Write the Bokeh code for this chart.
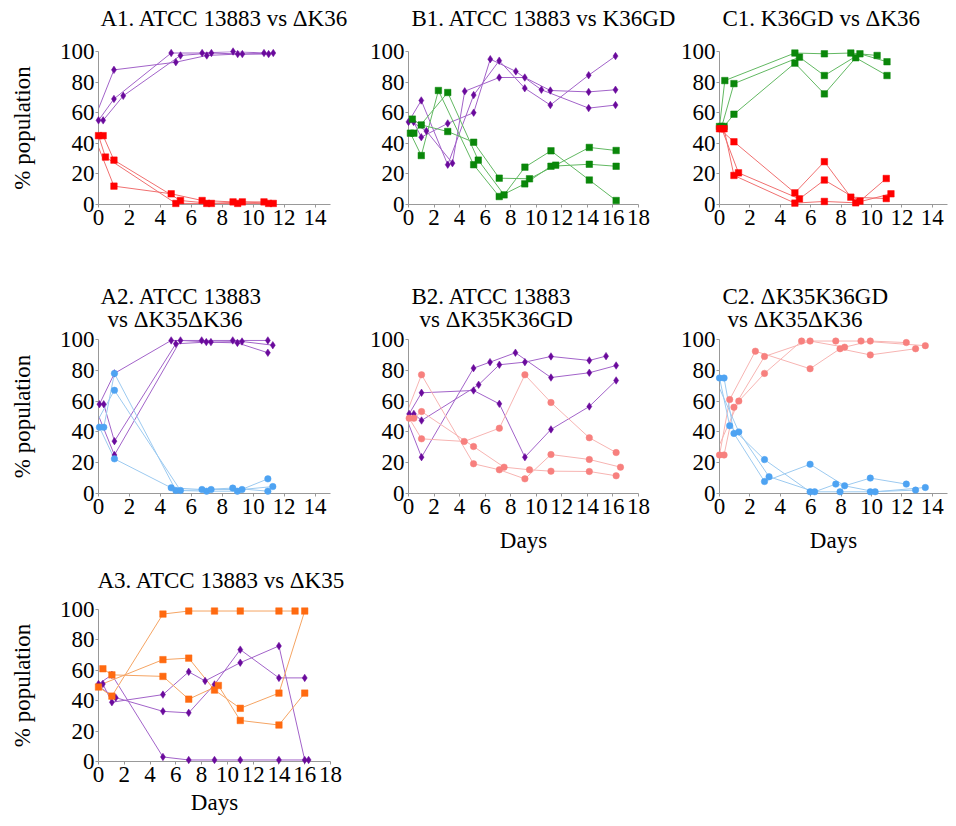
from bokeh.plotting import figure
from bokeh.models import Range1d, FixedTicker, Title
from bokeh.layouts import column, row
from bokeh.embed import file_html
from bokeh.resources import INLINE

# ---------------- data (days, % population), three replicate lines per strain ----------------
A1_ATCC_X = [[-0.3, 1.0, 5.0, 7.0, 9.0, 11.0], [0.0, 1.0, 4.7, 6.7, 8.7, 10.7], [0.3, 1.6, 5.3, 7.3, 9.3, 11.3]]
A1_ATCC_Y = [[55, 88, 93, 97.4, 98.3, 98.3], [55, 69, 99, 99, 100, 99], [55, 71, 97.4, 99, 98.3, 99]]
A1_K36_X = [[-0.3, 1.0, 4.7, 6.7, 8.7, 10.7], [0.0, 0.45, 5.0, 7.0, 9.0, 11.0], [0.3, 1.0, 5.3, 7.3, 9.3, 11.3]]
A1_K36_Y = [[45, 12, 7, 2.6, 1.7, 1.7], [45, 31, 0.7, 0.7, 0.7, 0.7], [45, 29, 2.6, 0.7, 1.7, 0.7]]

B1_ATCC_X = [[0.4, 1.0, 3.07, 5.1, 6.4, 8.4, 10.4, 14.1, 16.2],
             [0.0, 1.0, 3.07, 5.1, 7.1, 9.1, 11.1, 14.1, 16.2],
             [-0.3, 1.4, 3.44, 4.4, 7.1, 9.1, 11.1, 14.1, 16.2]]
B1_ATCC_Y = [[54, 44, 53, 60, 95, 87, 75, 63, 65],
             [54, 68, 26, 71.5, 94, 76, 65, 84.5, 97],
             [57, 48, 27, 74, 83, 83, 74.5, 73.6, 75]]
B1_K36GD_X = [[0.15, 1.0, 2.34, 5.1, 7.1, 9.1, 11.15, 14.15, 16.25],
              [0.3, 1.0, 3.07, 5.1, 7.1, 9.47, 11.52, 14.15, 16.25],
              [0.42, 3.07, 5.46, 7.48, 9.11, 11.15, 14.15, 16.25]]
B1_K36GD_Y = [[46.6, 32, 74.5, 26, 5.2, 13.5, 25, 26.3, 25],
              [55.8, 52, 47.7, 40.7, 17.2, 16.8, 25.7, 37.3, 35.3],
              [46.6, 73.2, 29, 6.3, 24.4, 35.1, 16, 2.6]]

C1_K36GD_X = [[0.0, 0.35, 4.96, 6.9, 8.64, 10.37], [0.15, 0.95, 5.26, 6.9, 9.24, 11.02], [0.3, 0.95, 4.96, 6.9, 8.96, 11.02]]
C1_K36GD_Y = [[51, 81, 99, 98.5, 99, 97.4], [51, 79, 96.3, 84.3, 98.5, 93.3], [51, 59, 92.4, 72.3, 95.9, 84.3]]
C1_K36_X = [[0.0, 0.95, 4.96, 6.9, 8.64, 10.97], [0.15, 1.25, 5.26, 6.9, 9.24, 10.97], [0.3, 0.95, 4.96, 6.9, 8.96, 11.28]]
C1_K36_Y = [[49.5, 41, 7.6, 28, 4.8, 3.9], [49.5, 20.7, 3.7, 16, 2.2, 17], [49.5, 19, 0.9, 2, 1.1, 7]]

A2_ATCC_X = [[0.06, 1.03, 4.7, 6.67, 8.68, 10.95], [0.34, 1.03, 5.0, 6.97, 8.98, 10.95], [-0.3, 1.03, 5.3, 7.27, 9.28, 11.27]]
A2_ATCC_Y = [[58, 78, 99.4, 99.4, 99.4, 99.4], [58, 34, 97.2, 98.3, 97.8, 91.4], [58, 25, 99.4, 98.3, 98.7, 96.3]]
A2_K35K36_X = [[0.06, 1.03, 4.7, 6.69, 8.68, 10.95], [0.34, 1.03, 5.0, 6.99, 8.98, 10.95], [-0.3, 1.03, 5.3, 7.28, 9.28, 11.27]]
A2_K35K36_Y = [[43, 22.5, 3.7, 2.6, 3.5, 1.5], [43, 78, 2, 1.5, 1.5, 9.5], [43, 67, 2, 2.6, 2.6, 4.5]]

B2_ATCC_X = [[0.05, 1.02, 5.09, 7.11, 9.11, 11.15, 14.15, 16.25],
             [0.42, 1.02, 5.49, 7.11, 9.11, 11.15, 14.15, 15.46],
             [-0.3, 1.02, 5.09, 6.38, 8.37, 11.15, 14.15, 16.25]]
B2_ATCC_Y = [[51.7, 65.4, 66.9, 58.2, 23.6, 41.6, 56.5, 73.4],
             [51.7, 47.4, 70.6, 83.6, 85.3, 89, 86.4, 89.2],
             [51.7, 23.6, 81.4, 85.3, 91.4, 75.3, 78.4, 83.1]]
B2_K35K36GD_X = [[0.05, 1.02, 4.36, 7.11, 9.11, 11.15, 14.15, 16.25],
                 [0.42, 1.02, 5.09, 7.48, 9.47, 11.15, 14.15, 16.25],
                 [-0.3, 1.02, 5.09, 7.11, 9.11, 11.15, 14.15, 16.59]]
B2_K35K36GD_Y = [[48.9, 35.5, 33.8, 42.4, 77.1, 59.1, 36.2, 26.6],
                 [48.9, 53.2, 30.5, 17.1, 15.4, 14.5, 14.3, 11.5],
                 [48.9, 77.1, 19.3, 15.4, 9.5, 25.3, 22.1, 17.1]]

C2_K35K36GD_X = [[0.0, 0.67, 2.36, 5.96, 7.93, 9.92, 12.9], [0.3, 0.95, 2.96, 5.96, 8.23, 9.92, 12.29], [-0.3, 1.27, 2.96, 5.4, 7.65, 9.31, 13.54]]
C2_K35K36GD_Y = [[25, 61, 92.4, 81, 94, 90, 94], [25, 56, 89, 99, 95, 99, 98], [25, 60, 78, 99, 99, 99, 96]]
C2_K35K36_X = [[0.0, 0.67, 2.96, 5.96, 7.93, 9.92, 12.9], [0.3, 0.95, 2.96, 5.96, 8.23, 9.92, 12.29], [-0.3, 1.27, 3.26, 6.26, 7.65, 10.24, 13.54]]
C2_K35K36_Y = [[75, 44, 22, 1.1, 1.1, 1.1, 2.2], [75, 39, 7.8, 19, 5, 10, 6.1], [75, 40, 10.9, 1.1, 6.1, 1.1, 3.9]]

A3_ATCC_X = [[0.0, 1.04, 5.0, 7.0, 9.0, 11.0, 14.0, 16.3], [0.34, 1.04, 5.0, 7.0, 8.27, 11.0, 14.0, 16.0], [-0.3, 1.34, 5.0, 7.0, 9.0, 11.0, 14.0, 16.0]]
A3_ATCC_Y = [[51, 57, 3, 1, 1, 1, 1, 1], [51, 39, 44, 59, 53, 65, 76, 1], [51, 42, 33, 32, 50.7, 73.6, 55, 55]]
A3_K35_X = [[0.0, 1.04, 5.0, 7.0, 9.0, 11.0, 14.0, 15.25], [0.34, 1.04, 5.0, 7.0, 9.3, 11.0, 14.0, 16.0], [-0.3, 5.0, 7.0, 9.0, 11.0, 14.0, 16.0]]
A3_K35_Y = [[49, 43, 97, 99, 99, 99, 99, 99], [61, 57, 56, 41, 50, 27, 24, 45], [49, 67, 68, 47, 35, 45, 99]]

Y_TICKS = [0, 20, 40, 60, 80, 100]

# ---------------- styles ----------------
FONT = "Liberation Serif"
AXIS_GREY = "#999999"
STYLE = {
    "atcc":      dict(marker="diamond", size=7.5, fill="#6a0a9c", line="#a263c9"),
    "dK36":      dict(marker="square", size=6.5, fill="#ff0000", line="#f07070"),
    "K36GD":     dict(marker="square", size=6.5, fill="#0a870a", line="#62b862"),
    "dK35dK36":  dict(marker="circle", size=6.5, fill="#4ea3f2", line="#9ccaf0"),
    "dK35K36GD": dict(marker="circle", size=6.5, fill="#f7807e", line="#f7b4b2"),
    "dK35":      dict(marker="square", size=6.5, fill="#ff6a10", line="#f5a463"),
}


def make_panel(series, xmax, frame_w, frame_h, borders, titles, gap, ylabel=None, xlabel=None,
               xlabel_standoff=11):
    left, right, top, bottom = borders
    p = figure(frame_width=frame_w, frame_height=frame_h,
               x_range=Range1d(0, xmax), y_range=Range1d(0, 100),
               output_backend="svg", toolbar_location=None, title=None,
               min_border_left=left, min_border_right=right,
               min_border_top=top, min_border_bottom=bottom)
    p.outline_line_color = None
    p.xgrid.visible = False
    p.ygrid.visible = False

    xa, ya = p.xaxis[0], p.yaxis[0]
    xa.ticker = FixedTicker(ticks=list(range(0, int(xmax) + 1, 2)))
    ya.ticker = FixedTicker(ticks=Y_TICKS)
    for ax in (xa, ya):
        ax.axis_line_color = AXIS_GREY
        ax.major_tick_line_color = AXIS_GREY
        ax.minor_tick_line_color = None
        ax.major_tick_in = 0
        ax.major_tick_out = 3
        ax.major_label_text_font = FONT
        ax.major_label_text_font_size = "23px"
        ax.major_label_text_color = "black"
        ax.axis_label_text_font = FONT
        ax.axis_label_text_font_size = "23px"
        ax.axis_label_text_font_style = "normal"
        ax.axis_label_text_color = "black"
    xa.major_label_standoff = 2
    ya.major_label_standoff = 1
    if ylabel:
        ya.axis_label = ylabel
        ya.axis_label_standoff = 22
    if xlabel:
        xa.axis_label = xlabel
        xa.axis_label_standoff = xlabel_standoff

    # lines are clipped at the axes; markers drawn unclipped on top (hidden if left of the y axis)
    for key, xs, ys in series:
        st = STYLE[key]
        for x, y in zip(xs, ys):
            p.line(x, y, line_color=st["line"], line_width=1)
    for key, xs, ys in series:
        st = STYLE[key]
        for x, y in zip(xs, ys):
            vx = [a for a, b in zip(x, y) if a >= 0]
            vy = [b for a, b in zip(x, y) if a >= 0]
            p.scatter(vx, vy, marker=st["marker"], size=st["size"], level="overlay",
                      fill_color=st["fill"], line_color=st["fill"], line_width=0.5)

    # thin blank spacer between frame and titles, then the title lines (nearest first)
    p.add_layout(Title(text=" ", text_font_size="1px", standoff=gap), "above")
    for text, offset, standoff in reversed(titles):
        p.add_layout(Title(text=text, align="left", offset=offset, standoff=standoff,
                           text_font=FONT, text_font_size="23px", text_font_style="normal",
                           text_color="black"), "above")
    return p


# frame sizes (px) and borders (left, right, top, bottom)
A_W, B_W, C_W, A3_W = 232, 230, 228, 232
R1_H, R2_H, R3_H = 153, 154, 152
A_B1, B_B1, C_B1 = (98, 36, 51, 55), (41, 39, 51, 55), (41, 5, 51, 55)
A_B2, B_B2, C_B2 = (98, 36, 80, 70), (41, 39, 80, 70), (41, 5, 80, 70)
A_B3 = (98, 36, 46, 64)

a1 = make_panel([("atcc", A1_ATCC_X, A1_ATCC_Y), ("dK36", A1_K36_X, A1_K36_Y)],
                15, A_W, R1_H, A_B1, [("A1. ATCC 13883 vs \u0394K36", 2, 0)], 18, ylabel="% population")
b1 = make_panel([("atcc", B1_ATCC_X, B1_ATCC_Y), ("K36GD", B1_K36GD_X, B1_K36GD_Y)],
                18, B_W, R1_H, B_B1, [("B1. ATCC 13883 vs K36GD", 3, 0)], 18)
c1 = make_panel([("K36GD", C1_K36GD_X, C1_K36GD_Y), ("dK36", C1_K36_X, C1_K36_Y)],
                15, C_W, R1_H, C_B1, [("C1. K36GD vs \u0394K36", 3, 0)], 18)

a2 = make_panel([("atcc", A2_ATCC_X, A2_ATCC_Y), ("dK35dK36", A2_K35K36_X, A2_K35K36_Y)],
                15, A_W, R2_H, A_B2, [("A2. ATCC 13883", 2, -9), ("vs \u0394K35\u0394K36", 9, 0)], 5,
                ylabel="% population")
b2 = make_panel([("atcc", B2_ATCC_X, B2_ATCC_Y), ("dK35K36GD", B2_K35K36GD_X, B2_K35K36GD_Y)],
                18, B_W, R2_H, B_B2, [("B2. ATCC 13883", 3, -9), ("vs \u0394K35K36GD", 11, 0)], 5,
                xlabel="Days")
c2 = make_panel([("dK35K36GD", C2_K35K36GD_X, C2_K35K36GD_Y), ("dK35dK36", C2_K35K36_X, C2_K35K36_Y)],
                15, C_W, R2_H, C_B2, [("C2. \u0394K35K36GD", 3, -9), ("vs \u0394K35\u0394K36", 8, 0)], 5,
                xlabel="Days")

a3 = make_panel([("atcc", A3_ATCC_X, A3_ATCC_Y), ("dK35", A3_K35_X, A3_K35_Y)],
                18, A3_W, R3_H, A_B3, [("A3. ATCC 13883 vs \u0394K35", -1, 0)], 14,
                ylabel="% population", xlabel="Days", xlabel_standoff=5)

layout = column(row(a1, b1, c1, spacing=0), row(a2, b2, c2, spacing=0), row(a3, spacing=0), spacing=0)

open("out.html", "w").write(file_html(layout, INLINE))
